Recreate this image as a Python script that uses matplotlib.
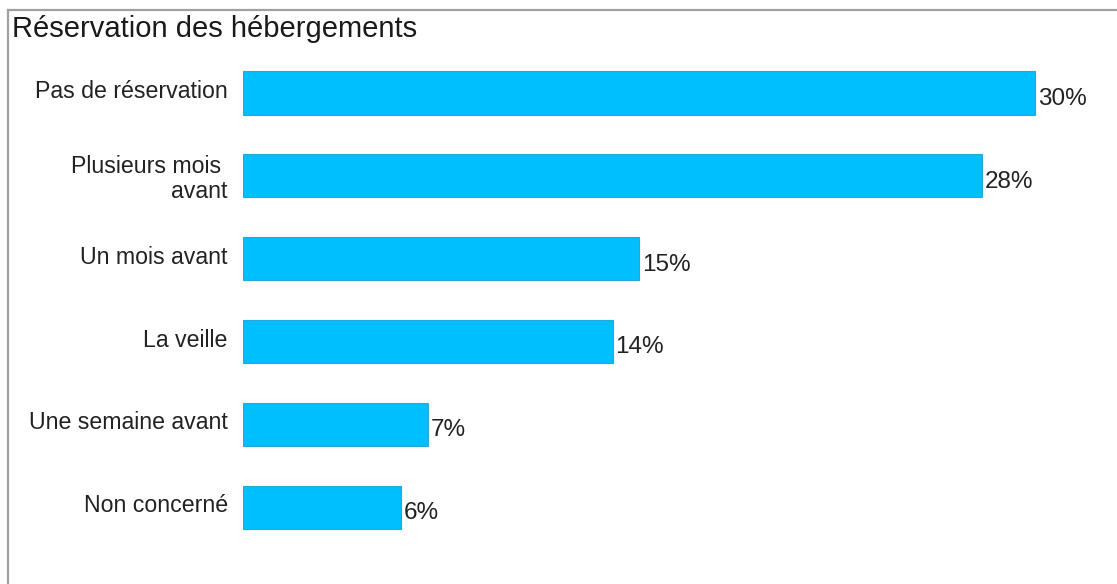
import matplotlib
matplotlib.use("Agg")
import matplotlib.pyplot as plt
from matplotlib.lines import Line2D

plt.rcParams['font.family'] = ['Liberation Sans', 'DejaVu Sans']

# Data
categories = ["Pas de réservation", "Plusieurs mois \navant", "Un mois avant",
              "La veille", "Une semaine avant", "Non concerné"]
values = [30, 28, 15, 14, 7, 6]
title = "Réservation des hébergements"

W, H = 1117, 584
fig = plt.figure(figsize=(W / 100, H / 100), dpi=100)
fig.patch.set_facecolor("white")

# Frame lines (top and left)
fig.add_artist(Line2D([8 / W, 1.0], [1 - 10 / H, 1 - 10 / H], color="#a0a0a0", lw=1.6,
                      transform=fig.transFigure))
fig.add_artist(Line2D([8 / W, 8 / W], [1 - 10 / H, 0.0], color="#a0a0a0", lw=1.6,
                      transform=fig.transFigure))

fig.text(12 / W, 1 - 37 / H, title, fontsize=21, color="#1a1a1a",
         ha="left", va="baseline")

px_per_unit = 26.4
xmax = 33
left = 243 / W
width = xmax * px_per_unit / W
ax = fig.add_axes([left, 0.0459, width, 0.88])

y = list(range(len(categories)))
ax.barh(y, values, height=0.52, color="#00bfff", edgecolor="#22a9d8", linewidth=0.8)
ax.set_xlim(0, xmax)
ax.set_ylim(5.6, -0.6)

for yi, v in zip(y, values):
    ax.annotate(f"{v}%", xy=(v, yi), xytext=(2, -8.5), textcoords="offset points",
                ha="left", va="baseline", fontsize=17.5, color="#222222")

for yi, c in zip(y, categories):
    lines = c.count("\n")
    ax.annotate(c, xy=(0, yi), xytext=(-11, -2 if lines else -3.5),
                textcoords="offset points",
                ha="right", va="center" if lines else "baseline",
                fontsize=16.7, color="#222222",
                multialignment="right", linespacing=1.12)

ax.set_xticks([])
ax.set_yticks([])
for s in ax.spines.values():
    s.set_visible(False)
ax.patch.set_alpha(0)

fig.savefig("out.png", dpi=100)
